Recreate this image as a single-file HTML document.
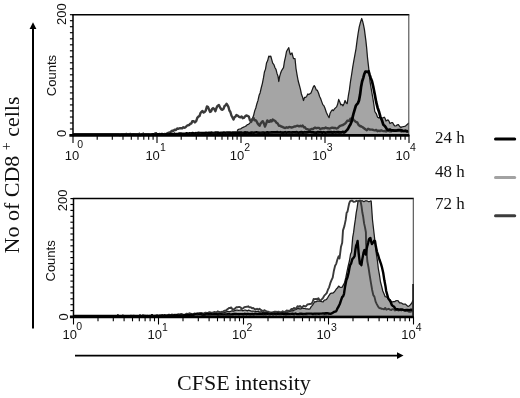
<!DOCTYPE html>
<html><head><meta charset="utf-8"><title>CFSE intensity</title>
<style>
html,body{margin:0;padding:0;background:#fff;}
svg{display:block}
.a{font-family:"Liberation Sans",Arial,sans-serif;font-size:13px;fill:#111}
.s{font-family:"Liberation Serif","Times New Roman",serif;fill:#111}
</style></head><body><svg width="520" height="398" viewBox="0 0 520 398"><rect width="520" height="398" fill="#fff"/><path d="M236.0,134.0 L237.0,131.8 L238.0,129.6 L239.4,129.0 L240.8,128.8 L242.2,127.7 L243.6,127.1 L245.0,126.5 L246.2,125.9 L247.3,124.6 L248.4,124.3 L249.6,123.5 L250.9,121.2 L252.2,118.9 L253.5,115.8 L254.7,110.9 L255.8,108.0 L256.9,103.7 L258.0,100.4 L259.1,95.3 L260.1,92.9 L261.2,88.0 L262.4,83.3 L263.5,77.7 L264.5,71.7 L265.5,69.1 L266.5,63.1 L267.6,60.8 L268.8,56.2 L269.8,56.6 L270.8,56.2 L271.8,59.9 L272.7,63.1 L273.9,64.6 L275.0,67.7 L276.0,69.4 L277.0,73.4 L278.0,76.2 L278.8,81.5 L279.6,76.6 L280.4,73.8 L281.4,71.0 L282.5,69.1 L283.5,67.7 L284.5,61.2 L285.5,56.8 L286.5,51.5 L287.6,49.5 L288.8,47.7 L289.6,52.0 L290.4,54.6 L291.2,53.8 L292.0,53.0 L292.8,56.1 L293.5,58.5 L294.2,58.5 L295.0,58.5 L296.0,68.5 L297.1,75.1 L298.2,81.0 L299.3,85.0 L300.4,89.2 L301.4,94.0 L302.4,96.7 L303.5,100.5 L304.6,97.3 L305.7,97.4 L306.7,96.3 L307.8,94.0 L308.9,94.5 L309.9,93.8 L311.0,93.0 L312.1,90.1 L313.1,87.4 L314.2,85.6 L315.2,87.2 L316.3,89.9 L317.4,90.4 L318.5,93.0 L319.6,96.5 L320.6,98.5 L321.7,101.6 L322.8,104.6 L323.8,105.6 L324.9,108.0 L326.3,112.3 L327.7,115.2 L329.1,117.6 L330.1,113.2 L331.2,111.2 L332.3,109.8 L333.3,110.7 L334.4,109.0 L335.5,107.9 L336.6,106.9 L337.6,104.3 L338.7,99.4 L339.8,101.9 L340.8,104.8 L341.9,104.3 L343.0,105.8 L344.1,103.5 L345.1,100.5 L346.1,102.8 L347.2,103.7 L348.5,94.9 L349.4,89.9 L350.5,81.4 L351.7,74.0 L352.8,66.6 L353.8,60.8 L354.9,54.8 L356.0,48.8 L357.0,41.2 L358.1,33.5 L359.2,27.2 L360.3,22.8 L361.7,18.5 L362.6,21.1 L363.5,24.9 L364.4,29.3 L365.2,35.6 L365.9,40.9 L366.7,48.4 L367.5,57.6 L368.4,65.4 L369.2,72.6 L370.0,81.3 L371.4,89.9 L372.9,98.3 L373.9,104.8 L374.8,111.5 L376.2,113.6 L377.6,117.2 L378.9,118.0 L380.1,117.0 L381.4,118.1 L382.8,117.9 L384.2,117.2 L385.1,118.4 L386.0,121.0 L387.0,120.3 L388.0,119.9 L389.0,121.2 L390.0,123.5 L391.4,122.7 L392.7,122.7 L393.9,125.0 L395.0,126.0 L396.1,125.9 L397.3,124.8 L398.4,124.6 L399.7,126.5 L401.0,127.5 L402.0,126.8 L403.0,126.7 L404.0,126.5 L405.4,126.1 L406.9,124.7 L407.8,124.0 L408.7,122.8 L408.7,134.0 Z" fill="#a5a5a5" stroke="none"/><path d="M237.0,131.8 L238.0,129.6 L239.4,129.0 L240.8,128.8 L242.2,127.7 L243.6,127.1 L245.0,126.5 L246.2,125.9 L247.3,124.6 L248.4,124.3 L249.6,123.5 L250.9,121.2 L252.2,118.9 L253.5,115.8 L254.7,110.9 L255.8,108.0 L256.9,103.7 L258.0,100.4 L259.1,95.3 L260.1,92.9 L261.2,88.0 L262.4,83.3 L263.5,77.7 L264.5,71.7 L265.5,69.1 L266.5,63.1 L267.6,60.8 L268.8,56.2 L269.8,56.6 L270.8,56.2 L271.8,59.9 L272.7,63.1 L273.9,64.6 L275.0,67.7 L276.0,69.4 L277.0,73.4 L278.0,76.2 L278.8,81.5 L279.6,76.6 L280.4,73.8 L281.4,71.0 L282.5,69.1 L283.5,67.7 L284.5,61.2 L285.5,56.8 L286.5,51.5 L287.6,49.5 L288.8,47.7 L289.6,52.0 L290.4,54.6 L291.2,53.8 L292.0,53.0 L292.8,56.1 L293.5,58.5 L294.2,58.5 L295.0,58.5 L296.0,68.5 L297.1,75.1 L298.2,81.0 L299.3,85.0 L300.4,89.2 L301.4,94.0 L302.4,96.7 L303.5,100.5 L304.6,97.3 L305.7,97.4 L306.7,96.3 L307.8,94.0 L308.9,94.5 L309.9,93.8 L311.0,93.0 L312.1,90.1 L313.1,87.4 L314.2,85.6 L315.2,87.2 L316.3,89.9 L317.4,90.4 L318.5,93.0 L319.6,96.5 L320.6,98.5 L321.7,101.6 L322.8,104.6 L323.8,105.6 L324.9,108.0 L326.3,112.3 L327.7,115.2 L329.1,117.6 L330.1,113.2 L331.2,111.2 L332.3,109.8 L333.3,110.7 L334.4,109.0 L335.5,107.9 L336.6,106.9 L337.6,104.3 L338.7,99.4 L339.8,101.9 L340.8,104.8 L341.9,104.3 L343.0,105.8 L344.1,103.5 L345.1,100.5 L346.1,102.8 L347.2,103.7 L348.5,94.9 L349.4,89.9 L350.5,81.4 L351.7,74.0 L352.8,66.6 L353.8,60.8 L354.9,54.8 L356.0,48.8 L357.0,41.2 L358.1,33.5 L359.2,27.2 L360.3,22.8 L361.7,18.5 L362.6,21.1 L363.5,24.9 L364.4,29.3 L365.2,35.6 L365.9,40.9 L366.7,48.4 L367.5,57.6 L368.4,65.4 L369.2,72.6 L370.0,81.3 L371.4,89.9 L372.9,98.3 L373.9,104.8 L374.8,111.5 L376.2,113.6 L377.6,117.2 L378.9,118.0 L380.1,117.0 L381.4,118.1 L382.8,117.9 L384.2,117.2 L385.1,118.4 L386.0,121.0 L387.0,120.3 L388.0,119.9 L389.0,121.2 L390.0,123.5 L391.4,122.7 L392.7,122.7 L393.9,125.0 L395.0,126.0 L396.1,125.9 L397.3,124.8 L398.4,124.6 L399.7,126.5 L401.0,127.5 L402.0,126.8 L403.0,126.7 L404.0,126.5 L405.4,126.1 L406.9,124.7 L407.8,124.0 L408.7,122.8" fill="none" stroke="#1a1a1a" stroke-width="1.25" stroke-linejoin="round"/><path d="M73.0,135.0 L74.4,134.5 L75.8,134.5 L77.1,134.5 L78.5,134.5 L79.9,134.5 L81.3,134.5 L82.7,134.5 L84.1,134.5 L85.4,134.5 L86.8,134.5 L88.2,134.5 L89.6,134.5 L91.0,134.5 L92.4,134.5 L93.7,134.5 L95.1,134.5 L96.5,134.5 L97.9,134.5 L99.3,134.5 L100.6,134.5 L102.0,134.5 L103.4,134.5 L104.8,134.5 L106.2,134.5 L107.6,134.5 L108.9,134.5 L110.3,134.5 L111.7,134.5 L113.1,134.5 L114.5,134.5 L115.9,134.5 L117.2,134.5 L118.6,134.5 L120.0,135.0 L121.4,134.5 L122.7,134.5 L124.1,134.5 L125.5,134.5 L126.8,134.5 L128.2,134.5 L129.5,134.5 L130.9,134.5 L132.3,134.5 L133.6,134.5 L135.0,134.5 L136.4,134.5 L137.7,134.5 L139.1,134.5 L140.5,134.5 L141.8,134.5 L143.2,134.5 L144.5,134.5 L145.9,134.5 L147.3,134.5 L148.6,134.5 L150.0,135.0 L151.3,134.5 L152.7,134.5 L154.0,134.5 L155.3,134.5 L156.7,134.5 L158.0,134.5 L159.3,134.0 L160.7,134.5 L162.0,134.3 L163.3,134.4 L164.7,134.0 L166.0,134.2 L167.2,133.5 L168.4,132.8 L169.6,132.6 L170.8,131.6 L172.1,130.6 L173.4,130.7 L174.7,129.7 L175.9,130.1 L177.2,128.5 L178.5,128.8 L179.7,128.2 L180.9,128.1 L182.2,128.4 L183.4,127.2 L184.6,127.8 L185.8,127.0 L186.9,125.8 L188.0,125.2 L189.2,125.0 L190.2,123.7 L191.3,123.6 L192.3,121.2 L193.6,121.1 L194.9,122.4 L196.2,121.2 L197.3,117.9 L198.5,116.5 L199.5,116.2 L200.5,113.0 L201.5,111.9 L202.5,111.0 L203.6,112.6 L204.6,111.9 L205.8,110.4 L206.9,106.5 L207.9,106.8 L209.0,109.4 L210.0,111.9 L211.0,111.4 L212.1,108.9 L213.1,108.1 L214.2,108.9 L215.4,111.2 L216.6,107.7 L217.7,105.7 L218.9,105.0 L220.2,107.7 L221.5,109.6 L222.5,109.8 L223.6,108.6 L224.6,105.8 L225.5,105.5 L226.5,103.8 L227.4,105.0 L228.4,106.8 L229.4,110.5 L230.4,112.0 L231.4,115.5 L232.5,117.5 L233.5,119.6 L234.5,117.3 L235.5,116.6 L236.5,115.0 L237.8,115.7 L239.1,116.9 L240.4,117.3 L241.6,116.4 L242.7,118.2 L243.8,117.9 L245.0,116.5 L246.3,115.5 L247.5,115.9 L248.8,116.5 L250.0,120.3 L251.2,121.9 L252.3,119.3 L253.5,118.0 L254.5,120.4 L255.5,120.2 L256.5,121.2 L257.5,123.2 L258.6,124.7 L259.6,125.8 L260.6,123.6 L261.7,122.2 L262.7,121.2 L263.9,123.3 L265.0,126.5 L266.1,123.9 L267.3,120.4 L268.5,121.7 L269.6,121.9 L270.6,120.2 L271.7,121.4 L272.7,119.6 L274.0,120.4 L275.2,121.0 L276.5,122.7 L277.7,123.5 L278.9,125.7 L280.0,125.7 L281.2,126.5 L282.5,126.9 L283.9,127.7 L285.2,128.0 L286.5,127.3 L287.8,127.7 L289.1,126.9 L290.4,127.1 L291.6,127.6 L292.9,127.2 L294.2,126.5 L295.4,126.5 L296.7,125.9 L297.9,125.8 L299.2,126.4 L300.4,125.8 L301.5,126.3 L302.7,125.6 L303.9,127.3 L305.0,127.3 L305.9,128.7 L306.9,129.2 L307.8,129.3 L309.0,129.8 L310.2,129.7 L311.4,128.9 L312.7,129.2 L313.9,128.3 L315.1,127.6 L316.3,128.2 L317.6,127.9 L319.0,127.9 L320.3,129.0 L321.6,128.5 L323.0,128.3 L324.3,128.4 L325.7,127.5 L327.0,128.2 L328.3,128.3 L329.6,128.6 L331.0,128.0 L332.3,127.7 L333.6,128.0 L335.0,127.9 L336.3,128.5 L337.6,128.2 L339.0,126.7 L340.3,125.8 L341.6,125.4 L343.0,125.0 L344.4,124.1 L345.8,122.9 L347.2,120.8 L348.3,120.7 L349.4,120.9 L350.4,118.8 L351.5,118.6 L352.6,118.1 L353.6,120.2 L354.7,120.8 L355.8,121.8 L357.2,122.4 L358.6,125.0 L360.0,126.0 L361.4,126.5 L362.7,127.2 L364.0,128.2 L365.4,129.3 L366.8,130.2 L368.1,128.8 L369.5,129.5 L370.9,129.6 L372.3,129.6 L373.6,130.1 L375.0,130.4 L376.2,130.0 L377.5,131.2 L378.8,130.6 L380.0,131.0 L381.2,130.3 L382.5,130.8 L383.8,131.1 L385.0,131.0 L386.2,131.4 L387.5,130.5 L388.8,130.8 L390.0,131.3 L391.2,131.2 L392.5,130.2 L393.8,130.6 L395.0,130.5 L396.3,130.9 L397.6,130.4 L398.9,130.9 L400.2,130.9 L401.5,131.5 L402.8,130.9 L404.1,131.1 L405.4,130.7 L406.7,131.3 L408.0,131.0" fill="none" stroke="#3a3a3a" stroke-width="2.4" stroke-linejoin="round"/><path d="M73.0,135.0 L74.5,134.5 L76.0,134.5 L77.5,134.5 L79.0,134.5 L80.4,134.5 L81.9,134.5 L83.4,134.5 L84.9,134.5 L86.4,134.5 L87.9,134.5 L89.4,134.5 L90.9,134.5 L92.4,134.5 L93.8,134.5 L95.3,134.5 L96.8,134.5 L98.3,134.5 L99.8,134.5 L101.3,134.5 L102.8,134.5 L104.3,134.5 L105.8,134.5 L107.2,134.5 L108.7,134.5 L110.2,134.5 L111.7,134.5 L113.2,134.5 L114.7,134.5 L116.2,134.5 L117.7,134.5 L119.2,134.5 L120.6,134.5 L122.1,134.5 L123.6,134.5 L125.1,134.5 L126.6,134.5 L128.1,134.5 L129.6,134.5 L131.1,134.5 L132.6,134.5 L134.0,134.5 L135.5,134.5 L137.0,134.5 L138.5,134.5 L140.0,135.0 L141.5,134.5 L142.9,134.5 L144.4,134.5 L145.8,134.5 L147.3,134.5 L148.8,134.5 L150.2,134.5 L151.7,134.5 L153.1,134.4 L154.6,134.5 L156.0,134.4 L157.5,134.4 L159.0,134.3 L160.4,134.4 L161.9,134.2 L163.3,134.4 L164.8,134.5 L166.2,134.2 L167.7,134.3 L169.2,134.4 L170.6,133.9 L172.1,133.9 L173.5,134.2 L175.0,134.0 L176.5,134.1 L177.9,134.0 L179.4,133.6 L180.9,133.7 L182.4,133.9 L183.8,133.9 L185.3,133.8 L186.8,133.4 L188.2,133.7 L189.7,133.3 L191.2,133.5 L192.6,133.1 L194.1,133.5 L195.6,133.2 L197.1,133.3 L198.5,132.9 L200.0,133.0 L201.5,133.1 L203.0,133.0 L204.5,133.0 L206.0,132.9 L207.5,133.1 L209.0,132.8 L210.4,132.8 L211.9,132.7 L213.4,133.0 L214.9,132.7 L216.4,132.7 L217.9,132.6 L219.4,133.0 L220.9,132.9 L222.4,132.9 L223.9,132.6 L225.4,132.8 L226.9,132.7 L228.4,132.6 L229.9,132.5 L231.3,133.1 L232.8,132.6 L234.3,132.7 L235.8,132.6 L237.3,132.8 L238.8,132.5 L240.3,132.7 L241.8,132.7 L243.3,133.0 L244.8,132.4 L246.3,132.6 L247.8,132.7 L249.3,133.0 L250.7,132.7 L252.2,132.7 L253.7,132.8 L255.2,132.5 L256.7,132.4 L258.2,132.7 L259.7,132.9 L261.2,132.8 L262.7,132.5 L264.2,132.7 L265.7,132.8 L267.2,132.4 L268.7,132.6 L270.1,132.5 L271.6,132.4 L273.1,132.4 L274.6,132.4 L276.1,132.4 L277.6,132.2 L279.1,132.5 L280.6,132.2 L282.1,132.7 L283.6,132.6 L285.1,132.2 L286.6,132.7 L288.1,132.3 L289.6,132.4 L291.0,132.5 L292.5,132.3 L294.0,132.3 L295.5,132.4 L297.0,132.2 L298.5,132.7 L300.0,132.4 L301.5,132.1 L303.0,132.6 L304.4,132.2 L305.9,132.3 L307.4,132.3 L308.9,132.1 L310.4,132.1 L311.9,132.3 L313.3,132.3 L314.8,132.6 L316.3,132.7 L317.8,132.0 L319.3,132.4 L320.7,132.1 L322.2,132.6 L323.7,132.2 L325.2,132.6 L326.7,132.4 L328.1,132.1 L329.6,132.0 L331.1,132.1 L332.6,132.6 L334.1,132.1 L335.6,132.3 L337.0,132.2 L338.5,132.2 L340.0,132.3 L341.3,132.4 L342.6,131.9 L343.8,132.2 L345.1,132.0 L346.2,130.9 L347.2,129.9 L348.3,128.2 L349.4,126.1 L350.4,124.6 L351.5,121.8 L352.6,117.4 L353.6,113.3 L354.7,109.7 L355.8,105.8 L356.9,104.3 L357.9,103.1 L359.0,100.5 L360.1,94.6 L361.1,86.7 L362.1,81.5 L363.2,78.1 L364.3,74.0 L365.4,71.7 L366.5,71.6 L367.5,72.1 L368.6,71.2 L369.6,74.7 L370.7,78.0 L372.0,81.3 L373.4,87.4 L374.8,94.5 L376.2,102.2 L377.6,107.7 L379.1,112.0 L380.5,117.2 L381.9,120.2 L383.3,124.7 L384.5,125.7 L385.8,127.3 L387.0,129.4 L388.4,129.9 L389.9,129.5 L391.3,130.3 L392.7,130.4 L394.2,130.6 L395.6,130.7 L397.1,130.4 L398.5,130.0 L400.0,130.0 L401.4,130.4 L402.8,130.8 L404.1,131.0 L405.5,130.9 L406.9,131.3 L407.7,131.4 L408.5,131.0" fill="none" stroke="#000" stroke-width="2.7" stroke-linejoin="round"/><line x1="72.3" y1="14.7" x2="409.3" y2="14.7" stroke="#000" stroke-width="1.5"/><line x1="408.8" y1="14.7" x2="408.8" y2="136.0" stroke="#4a4a4a" stroke-width="1.1"/><line x1="73.0" y1="14.7" x2="73.0" y2="136.0" stroke="#000" stroke-width="1.5"/><line x1="69.4" y1="135.35" x2="409.3" y2="135.35" stroke="#000" stroke-width="2.8"/><g stroke="#000" stroke-width="1.1"><line x1="73.0" y1="135.0" x2="73.0" y2="143.0"/><line x1="97.2" y1="135.0" x2="97.2" y2="139.8"/><line x1="112.3" y1="135.0" x2="112.3" y2="139.8"/><line x1="123.0" y1="135.0" x2="123.0" y2="139.8"/><line x1="131.3" y1="135.0" x2="131.3" y2="139.8"/><line x1="138.0" y1="135.0" x2="138.0" y2="139.8"/><line x1="143.8" y1="135.0" x2="143.8" y2="139.8"/><line x1="148.7" y1="135.0" x2="148.7" y2="139.8"/><line x1="153.1" y1="135.0" x2="153.1" y2="139.8"/><line x1="157.0" y1="135.0" x2="157.0" y2="143.0"/><line x1="181.2" y1="135.0" x2="181.2" y2="139.8"/><line x1="196.3" y1="135.0" x2="196.3" y2="139.8"/><line x1="207.0" y1="135.0" x2="207.0" y2="139.8"/><line x1="215.3" y1="135.0" x2="215.3" y2="139.8"/><line x1="222.0" y1="135.0" x2="222.0" y2="139.8"/><line x1="227.8" y1="135.0" x2="227.8" y2="139.8"/><line x1="232.7" y1="135.0" x2="232.7" y2="139.8"/><line x1="237.1" y1="135.0" x2="237.1" y2="139.8"/><line x1="241.0" y1="135.0" x2="241.0" y2="143.0"/><line x1="265.2" y1="135.0" x2="265.2" y2="139.8"/><line x1="280.3" y1="135.0" x2="280.3" y2="139.8"/><line x1="291.0" y1="135.0" x2="291.0" y2="139.8"/><line x1="299.3" y1="135.0" x2="299.3" y2="139.8"/><line x1="306.0" y1="135.0" x2="306.0" y2="139.8"/><line x1="311.8" y1="135.0" x2="311.8" y2="139.8"/><line x1="316.7" y1="135.0" x2="316.7" y2="139.8"/><line x1="321.1" y1="135.0" x2="321.1" y2="139.8"/><line x1="325.0" y1="135.0" x2="325.0" y2="143.0"/><line x1="349.2" y1="135.0" x2="349.2" y2="139.8"/><line x1="364.3" y1="135.0" x2="364.3" y2="139.8"/><line x1="375.0" y1="135.0" x2="375.0" y2="139.8"/><line x1="383.3" y1="135.0" x2="383.3" y2="139.8"/><line x1="390.0" y1="135.0" x2="390.0" y2="139.8"/><line x1="395.8" y1="135.0" x2="395.8" y2="139.8"/><line x1="400.7" y1="135.0" x2="400.7" y2="139.8"/><line x1="405.1" y1="135.0" x2="405.1" y2="139.8"/><line x1="409.0" y1="135.0" x2="409.0" y2="143.0"/></g><g stroke="#000" stroke-width="1.15"><line x1="69.9" y1="135.0" x2="73.0" y2="135.0"/><line x1="69.9" y1="129.0" x2="73.0" y2="129.0"/><line x1="69.9" y1="123.0" x2="73.0" y2="123.0"/><line x1="69.9" y1="117.0" x2="73.0" y2="117.0"/><line x1="69.9" y1="110.9" x2="73.0" y2="110.9"/><line x1="69.9" y1="104.9" x2="73.0" y2="104.9"/><line x1="69.9" y1="98.9" x2="73.0" y2="98.9"/><line x1="69.9" y1="92.9" x2="73.0" y2="92.9"/><line x1="69.9" y1="86.9" x2="73.0" y2="86.9"/><line x1="69.9" y1="80.9" x2="73.0" y2="80.9"/><line x1="69.9" y1="74.8" x2="73.0" y2="74.8"/><line x1="69.9" y1="68.8" x2="73.0" y2="68.8"/><line x1="69.9" y1="62.8" x2="73.0" y2="62.8"/><line x1="69.9" y1="56.8" x2="73.0" y2="56.8"/><line x1="69.9" y1="50.8" x2="73.0" y2="50.8"/><line x1="69.9" y1="44.8" x2="73.0" y2="44.8"/><line x1="69.9" y1="38.8" x2="73.0" y2="38.8"/><line x1="69.9" y1="32.7" x2="73.0" y2="32.7"/><line x1="69.9" y1="26.7" x2="73.0" y2="26.7"/><line x1="69.9" y1="20.7" x2="73.0" y2="20.7"/><line x1="69.9" y1="14.7" x2="73.0" y2="14.7"/></g><text x="64.8" y="159.5" class="a">10</text><text x="77.3" y="148.2" class="a" style="font-size:10.5px">0</text><text x="145.4" y="159.5" class="a">10</text><text x="159.9" y="150.5" class="a" style="font-size:10.5px">1</text><text x="229.7" y="159.5" class="a">10</text><text x="244.2" y="150.5" class="a" style="font-size:10.5px">2</text><text x="312.2" y="159.5" class="a">10</text><text x="326.7" y="150.5" class="a" style="font-size:10.5px">3</text><text x="395.5" y="159.5" class="a">10</text><text x="410.0" y="150.5" class="a" style="font-size:10.5px">4</text><text transform="translate(56.0,75.6) rotate(-90)" text-anchor="middle" class="a" style="font-size:13px">Counts</text><text transform="translate(65.9,137.1) rotate(-90)" class="a">0</text><text transform="translate(65.9,25.0) rotate(-90)" class="a">200</text><path d="M200.0,315.5 L201.4,315.2 L202.7,315.2 L204.1,315.0 L205.5,314.8 L206.8,314.4 L208.2,314.6 L209.5,314.4 L210.9,314.1 L212.3,313.9 L213.6,313.5 L215.0,313.5 L216.4,313.0 L217.9,313.1 L219.3,313.1 L220.7,312.6 L222.1,313.0 L223.6,312.4 L225.0,312.5 L226.4,311.9 L227.8,311.4 L229.2,311.9 L230.6,311.4 L232.0,310.8 L233.3,311.1 L234.7,310.7 L236.0,310.1 L237.3,310.2 L238.7,310.3 L240.0,310.2 L241.4,309.9 L242.9,310.8 L244.3,310.2 L245.7,310.1 L247.1,310.8 L248.6,310.2 L250.0,310.6 L251.4,311.2 L252.9,311.0 L254.3,311.2 L255.7,311.3 L257.1,311.6 L258.6,311.5 L260.0,312.0 L261.4,311.7 L262.7,312.5 L264.1,312.1 L265.5,312.6 L266.8,312.2 L268.2,312.9 L269.5,312.9 L270.9,312.9 L272.3,313.0 L273.6,313.0 L275.0,313.0 L276.4,313.1 L277.9,312.5 L279.3,312.6 L280.8,312.8 L282.2,312.2 L283.7,312.7 L285.1,312.5 L286.6,312.0 L288.0,312.0 L289.3,311.5 L290.7,311.1 L292.0,310.6 L293.3,310.8 L294.7,309.8 L296.0,309.5 L297.2,308.7 L298.4,308.4 L299.6,308.8 L300.8,308.9 L302.0,308.0 L303.3,308.3 L304.7,308.5 L306.0,308.8 L307.3,308.9 L308.7,309.1 L310.0,308.8 L311.2,306.6 L312.4,305.4 L313.6,303.5 L314.8,301.6 L316.2,301.8 L317.6,301.0 L319.1,301.0 L320.5,301.3 L321.9,301.6 L323.1,301.8 L324.3,300.1 L325.5,300.0 L326.7,299.2 L327.9,297.3 L329.1,295.3 L330.3,293.7 L331.5,293.2 L332.7,293.2 L333.9,292.3 L335.1,290.9 L336.3,289.0 L337.4,288.1 L338.6,286.1 L339.8,287.1 L341.0,287.3 L342.2,287.1 L343.4,284.9 L344.6,282.4 L345.8,277.7 L347.0,271.5 L348.2,265.8 L349.4,261.0 L350.6,253.9 L351.5,252.0 L352.7,237.4 L353.6,232.4 L354.5,225.1 L355.4,219.2 L356.2,212.8 L357.1,208.0 L358.0,201.4 L358.3,200.8 L359.7,200.8 L361.1,200.8 L362.5,200.8 L363.9,201.7 L365.4,200.8 L366.8,200.8 L368.2,201.5 L369.6,201.5 L371.0,200.8 L371.2,201.4 L372.5,220.0 L373.6,229.5 L374.7,239.0 L375.6,247.8 L376.5,254.9 L377.4,260.6 L378.3,268.5 L379.4,274.7 L380.5,282.0 L381.6,286.0 L382.8,291.0 L384.0,293.7 L385.2,296.7 L386.5,296.9 L387.7,297.7 L389.0,299.5 L390.1,299.7 L391.2,301.3 L392.4,302.0 L393.5,301.6 L394.7,301.7 L395.8,300.8 L397.0,300.5 L398.2,300.8 L399.5,302.8 L400.7,302.8 L401.8,303.2 L402.9,304.0 L404.0,304.0 L405.3,304.1 L406.6,305.2 L407.9,306.4 L408.9,306.1 L410.0,305.2 L411.0,304.0 L412.0,302.7 L413.0,300.0 L413.0,315.5 Z" fill="#a5a5a5" stroke="none"/><path d="M201.4,315.2 L202.7,315.2 L204.1,315.0 L205.5,314.8 L206.8,314.4 L208.2,314.6 L209.5,314.4 L210.9,314.1 L212.3,313.9 L213.6,313.5 L215.0,313.5 L216.4,313.0 L217.9,313.1 L219.3,313.1 L220.7,312.6 L222.1,313.0 L223.6,312.4 L225.0,312.5 L226.4,311.9 L227.8,311.4 L229.2,311.9 L230.6,311.4 L232.0,310.8 L233.3,311.1 L234.7,310.7 L236.0,310.1 L237.3,310.2 L238.7,310.3 L240.0,310.2 L241.4,309.9 L242.9,310.8 L244.3,310.2 L245.7,310.1 L247.1,310.8 L248.6,310.2 L250.0,310.6 L251.4,311.2 L252.9,311.0 L254.3,311.2 L255.7,311.3 L257.1,311.6 L258.6,311.5 L260.0,312.0 L261.4,311.7 L262.7,312.5 L264.1,312.1 L265.5,312.6 L266.8,312.2 L268.2,312.9 L269.5,312.9 L270.9,312.9 L272.3,313.0 L273.6,313.0 L275.0,313.0 L276.4,313.1 L277.9,312.5 L279.3,312.6 L280.8,312.8 L282.2,312.2 L283.7,312.7 L285.1,312.5 L286.6,312.0 L288.0,312.0 L289.3,311.5 L290.7,311.1 L292.0,310.6 L293.3,310.8 L294.7,309.8 L296.0,309.5 L297.2,308.7 L298.4,308.4 L299.6,308.8 L300.8,308.9 L302.0,308.0 L303.3,308.3 L304.7,308.5 L306.0,308.8 L307.3,308.9 L308.7,309.1 L310.0,308.8 L311.2,306.6 L312.4,305.4 L313.6,303.5 L314.8,301.6 L316.2,301.8 L317.6,301.0 L319.1,301.0 L320.5,301.3 L321.9,301.6 L323.1,301.8 L324.3,300.1 L325.5,300.0 L326.7,299.2 L327.9,297.3 L329.1,295.3 L330.3,293.7 L331.5,293.2 L332.7,293.2 L333.9,292.3 L335.1,290.9 L336.3,289.0 L337.4,288.1 L338.6,286.1 L339.8,287.1 L341.0,287.3 L342.2,287.1 L343.4,284.9 L344.6,282.4 L345.8,277.7 L347.0,271.5 L348.2,265.8 L349.4,261.0 L350.6,253.9 L351.5,252.0 L352.7,237.4 L353.6,232.4 L354.5,225.1 L355.4,219.2 L356.2,212.8 L357.1,208.0 L358.0,201.4 L358.3,200.8 L359.7,200.8 L361.1,200.8 L362.5,200.8 L363.9,201.7 L365.4,200.8 L366.8,200.8 L368.2,201.5 L369.6,201.5 L371.0,200.8 L371.2,201.4 L372.5,220.0 L373.6,229.5 L374.7,239.0 L375.6,247.8 L376.5,254.9 L377.4,260.6 L378.3,268.5 L379.4,274.7 L380.5,282.0 L381.6,286.0 L382.8,291.0 L384.0,293.7 L385.2,296.7 L386.5,296.9 L387.7,297.7 L389.0,299.5 L390.1,299.7 L391.2,301.3 L392.4,302.0 L393.5,301.6 L394.7,301.7 L395.8,300.8 L397.0,300.5 L398.2,300.8 L399.5,302.8 L400.7,302.8 L401.8,303.2 L402.9,304.0 L404.0,304.0 L405.3,304.1 L406.6,305.2 L407.9,306.4 L408.9,306.1 L410.0,305.2 L411.0,304.0 L412.0,302.7 L413.0,300.0" fill="none" stroke="#1a1a1a" stroke-width="1.25" stroke-linejoin="round"/><path d="M73.5,316.5 L74.9,316.0 L76.2,316.0 L77.6,316.0 L79.0,316.0 L80.3,316.0 L81.7,316.0 L83.1,316.0 L84.4,316.0 L85.8,316.0 L87.2,316.0 L88.5,316.0 L89.9,316.0 L91.3,316.0 L92.6,316.0 L94.0,316.0 L95.4,316.0 L96.8,316.0 L98.1,316.0 L99.5,316.0 L100.9,316.0 L102.2,316.0 L103.6,316.0 L105.0,316.0 L106.3,316.0 L107.7,316.0 L109.1,316.0 L110.4,316.0 L111.8,316.0 L113.2,316.0 L114.5,316.0 L115.9,316.0 L117.3,316.0 L118.6,316.0 L120.0,316.5 L121.4,316.0 L122.7,316.0 L124.1,316.0 L125.5,316.0 L126.8,316.0 L128.2,316.0 L129.5,315.9 L130.9,315.8 L132.3,316.0 L133.6,315.7 L135.0,316.0 L136.4,316.0 L137.7,316.0 L139.1,316.0 L140.5,316.0 L141.8,316.0 L143.2,315.8 L144.5,315.8 L145.9,316.0 L147.3,315.6 L148.6,315.9 L150.0,315.8 L151.4,315.8 L152.7,315.6 L154.1,315.8 L155.5,315.6 L156.8,315.1 L158.2,316.0 L159.5,315.3 L160.9,315.3 L162.3,315.2 L163.6,315.7 L165.0,315.7 L166.4,315.2 L167.7,315.0 L169.1,314.6 L170.5,315.4 L171.8,314.5 L173.2,314.9 L174.5,314.6 L175.9,314.6 L177.3,314.5 L178.6,314.3 L180.0,314.6 L181.3,313.9 L182.7,314.4 L184.0,314.7 L185.3,314.4 L186.7,313.7 L188.0,314.2 L189.3,313.3 L190.7,313.6 L192.0,314.1 L193.3,314.1 L194.7,313.4 L196.0,313.8 L197.3,313.2 L198.7,313.1 L200.0,313.0 L201.4,313.0 L202.7,313.5 L204.1,313.1 L205.5,312.6 L206.8,312.9 L208.2,312.7 L209.5,312.1 L210.9,312.7 L212.3,312.7 L213.6,312.3 L215.0,312.0 L216.3,312.7 L217.7,311.3 L219.0,312.0 L220.3,312.2 L221.7,311.8 L223.0,312.0 L224.3,310.6 L225.7,310.7 L227.0,309.5 L228.0,308.9 L229.0,308.0 L230.0,308.0 L231.3,307.5 L232.7,309.7 L234.0,309.2 L235.3,308.2 L236.7,307.1 L238.0,307.2 L239.2,306.9 L240.5,307.3 L241.8,308.8 L243.0,308.4 L244.3,307.2 L245.7,306.9 L247.0,306.8 L248.2,306.3 L249.5,307.4 L250.8,307.3 L252.0,308.2 L253.2,308.0 L254.5,309.0 L255.8,309.5 L257.0,308.8 L258.2,309.8 L259.5,308.8 L260.8,309.9 L262.0,310.5 L263.2,311.3 L264.3,310.2 L265.5,310.8 L266.7,311.5 L267.8,311.6 L269.0,312.0 L270.4,312.4 L271.8,312.4 L273.1,312.1 L274.5,311.8 L275.9,311.8 L277.2,311.9 L278.6,311.6 L280.0,312.3 L281.3,312.3 L282.7,311.3 L284.0,312.3 L285.3,311.7 L286.7,310.5 L288.0,311.0 L289.2,310.6 L290.3,310.3 L291.5,308.9 L292.7,309.3 L293.8,308.0 L295.0,308.5 L296.2,308.4 L297.5,306.2 L298.8,306.9 L300.0,306.0 L301.2,307.2 L302.5,307.0 L303.8,305.8 L305.0,306.5 L306.2,306.0 L307.5,304.4 L308.8,304.2 L310.0,304.0 L311.2,303.8 L312.4,302.5 L313.6,299.0 L314.8,299.2 L316.0,298.8 L317.2,299.6 L318.4,298.2 L319.5,300.1 L320.7,300.4 L321.9,299.2 L323.1,297.8 L324.3,295.6 L325.5,294.4 L326.7,293.1 L327.9,289.7 L329.1,287.3 L330.3,283.2 L331.5,280.2 L332.7,277.7 L333.9,270.7 L335.1,265.8 L336.3,263.6 L337.4,259.5 L338.6,256.3 L339.5,258.5 L340.2,253.2 L341.0,246.7 L342.2,242.7 L343.0,230.4 L344.4,226.1 L345.7,219.9 L346.6,212.8 L347.5,211.6 L348.3,207.6 L349.1,203.6 L350.0,201.4 L351.0,200.8 L352.4,200.8 L353.7,201.9 L355.1,201.6 L356.5,200.8 L357.9,201.3 L359.2,200.8 L360.6,200.8 L360.6,201.4 L361.5,206.1 L362.4,212.8 L363.2,216.8 L364.1,223.4 L365.0,227.4 L365.9,232.2 L366.1,244.3 L367.3,261.0 L368.5,267.4 L369.7,275.3 L370.9,282.6 L372.1,289.7 L373.3,295.1 L374.4,296.6 L375.6,301.6 L376.8,304.1 L378.0,306.4 L379.2,308.0 L380.4,308.2 L381.6,308.8 L382.8,308.9 L384.0,309.3 L385.2,307.9 L386.4,309.7 L387.6,309.2 L388.8,308.8 L390.0,309.7 L391.3,310.1 L392.5,309.1 L393.8,309.4 L395.0,310.5 L396.2,309.7 L397.5,310.0 L398.8,310.5 L400.0,309.5 L401.3,310.5 L402.6,309.9 L403.9,310.5 L405.3,311.0 L406.6,310.6 L407.9,311.1 L409.2,311.8 L410.4,311.8 L411.7,311.4 L413.0,311.0" fill="none" stroke="#3a3a3a" stroke-width="1.9" stroke-linejoin="round"/><path d="M73.5,316.5 L75.0,316.0 L76.5,316.0 L77.9,316.0 L79.4,316.0 L80.9,316.0 L82.4,316.0 L83.8,316.0 L85.3,316.0 L86.8,316.0 L88.3,316.0 L89.8,316.0 L91.2,316.0 L92.7,316.0 L94.2,316.0 L95.7,316.0 L97.1,316.0 L98.6,316.0 L100.1,316.0 L101.6,316.0 L103.1,316.0 L104.5,316.0 L106.0,316.0 L107.5,316.0 L109.0,316.0 L110.4,316.0 L111.9,316.0 L113.4,316.0 L114.9,316.0 L116.4,316.0 L117.8,316.0 L119.3,316.0 L120.8,316.0 L122.3,316.0 L123.7,316.0 L125.2,316.0 L126.7,316.0 L128.2,316.0 L129.7,316.0 L131.1,316.0 L132.6,316.0 L134.1,316.0 L135.6,316.0 L137.0,316.0 L138.5,316.0 L140.0,316.5 L141.5,316.0 L143.0,316.0 L144.4,316.0 L145.9,316.0 L147.4,316.0 L148.9,316.0 L150.4,316.0 L151.9,316.0 L153.3,316.0 L154.8,316.0 L156.3,315.9 L157.8,315.8 L159.3,316.0 L160.7,316.0 L162.2,316.0 L163.7,315.7 L165.2,315.8 L166.7,316.0 L168.1,315.8 L169.6,315.9 L171.1,315.5 L172.6,315.8 L174.1,315.3 L175.6,315.5 L177.0,315.2 L178.5,315.6 L180.0,315.4 L181.4,315.4 L182.9,315.5 L184.3,315.3 L185.7,315.3 L187.1,315.0 L188.6,315.2 L190.0,315.0 L191.4,314.7 L192.9,315.0 L194.3,314.5 L195.7,314.3 L197.1,314.2 L198.6,314.4 L200.0,314.3 L201.5,314.1 L203.0,314.6 L204.5,314.6 L206.0,314.1 L207.5,314.0 L209.0,314.3 L210.4,314.0 L211.9,314.3 L213.4,314.4 L214.9,314.1 L216.4,314.2 L217.9,314.5 L219.4,314.2 L220.9,314.1 L222.4,314.4 L223.9,314.4 L225.4,314.4 L226.9,314.3 L228.4,314.1 L229.9,314.3 L231.3,314.4 L232.8,314.2 L234.3,314.0 L235.8,314.0 L237.3,314.1 L238.8,314.3 L240.3,314.1 L241.8,314.1 L243.3,314.3 L244.8,313.8 L246.3,314.2 L247.8,313.9 L249.3,314.1 L250.7,314.3 L252.2,313.9 L253.7,314.3 L255.2,313.7 L256.7,314.1 L258.2,314.0 L259.7,313.8 L261.2,314.0 L262.7,314.0 L264.2,313.9 L265.7,314.1 L267.2,313.6 L268.7,313.9 L270.1,314.1 L271.6,313.7 L273.1,314.2 L274.6,313.7 L276.1,314.0 L277.6,313.7 L279.1,313.9 L280.6,313.8 L282.1,313.6 L283.6,314.0 L285.1,313.9 L286.6,314.0 L288.1,313.9 L289.6,313.9 L291.0,313.9 L292.5,313.7 L294.0,314.1 L295.5,313.5 L297.0,314.1 L298.5,314.1 L300.0,313.8 L301.4,313.8 L302.9,314.0 L304.3,313.9 L305.7,313.8 L307.2,313.6 L308.6,313.6 L310.0,313.6 L311.5,313.6 L312.9,314.0 L314.3,313.6 L315.8,313.6 L317.2,313.6 L318.6,313.8 L320.0,313.6 L321.5,313.6 L322.9,313.4 L324.3,313.4 L325.8,313.3 L327.2,313.3 L328.6,313.4 L330.1,313.8 L331.5,313.5 L332.7,312.9 L333.9,312.0 L335.1,311.7 L336.3,311.1 L337.5,308.3 L338.6,306.5 L339.8,304.0 L341.0,300.4 L342.2,297.0 L343.1,296.3 L344.0,293.8 L345.1,286.4 L346.3,280.2 L347.5,277.3 L348.6,272.7 L349.4,268.3 L350.1,265.2 L351.2,263.3 L352.3,259.1 L353.5,257.9 L354.6,256.1 L355.4,249.8 L356.1,245.6 L356.9,244.0 L357.6,241.0 L358.8,254.6 L359.9,263.7 L360.6,263.9 L361.4,265.2 L362.1,260.3 L362.9,256.1 L363.6,252.3 L364.4,250.1 L365.1,253.2 L365.9,254.6 L366.6,249.1 L367.4,245.6 L368.1,243.1 L368.9,239.5 L369.6,238.5 L370.4,238.0 L371.1,241.4 L371.9,244.0 L372.7,242.8 L373.5,242.5 L374.2,240.7 L375.0,241.0 L376.0,247.1 L377.0,251.8 L378.0,254.6 L379.4,259.5 L380.9,263.7 L382.0,267.4 L383.2,272.7 L384.4,280.6 L385.5,286.3 L386.2,291.0 L387.0,293.8 L388.3,298.5 L389.4,299.9 L390.6,301.8 L391.7,304.7 L392.8,306.0 L393.9,306.5 L395.1,308.4 L396.2,309.2 L397.6,309.2 L399.1,309.6 L400.6,309.5 L402.0,309.5 L403.5,309.9 L404.9,310.1 L406.4,310.0 L407.9,310.0 L409.2,310.1 L410.4,309.8 L411.7,309.6 L413.0,310.0" fill="none" stroke="#000" stroke-width="2.4" stroke-linejoin="round"/><line x1="72.8" y1="198.6" x2="413.8" y2="198.6" stroke="#000" stroke-width="1.5"/><line x1="413.3" y1="198.6" x2="413.3" y2="317.5" stroke="#4a4a4a" stroke-width="1.1"/><line x1="73.5" y1="198.6" x2="73.5" y2="317.5" stroke="#000" stroke-width="1.5"/><line x1="69.9" y1="316.85" x2="413.8" y2="316.85" stroke="#000" stroke-width="2.8"/><g stroke="#000" stroke-width="1.1"><line x1="73.5" y1="316.5" x2="73.5" y2="324.5"/><line x1="98.0" y1="316.5" x2="98.0" y2="321.3"/><line x1="113.3" y1="316.5" x2="113.3" y2="321.3"/><line x1="124.1" y1="316.5" x2="124.1" y2="321.3"/><line x1="132.5" y1="316.5" x2="132.5" y2="321.3"/><line x1="139.3" y1="316.5" x2="139.3" y2="321.3"/><line x1="145.1" y1="316.5" x2="145.1" y2="321.3"/><line x1="150.1" y1="316.5" x2="150.1" y2="321.3"/><line x1="154.5" y1="316.5" x2="154.5" y2="321.3"/><line x1="158.5" y1="316.5" x2="158.5" y2="324.5"/><line x1="183.0" y1="316.5" x2="183.0" y2="321.3"/><line x1="198.3" y1="316.5" x2="198.3" y2="321.3"/><line x1="209.1" y1="316.5" x2="209.1" y2="321.3"/><line x1="217.5" y1="316.5" x2="217.5" y2="321.3"/><line x1="224.3" y1="316.5" x2="224.3" y2="321.3"/><line x1="230.1" y1="316.5" x2="230.1" y2="321.3"/><line x1="235.1" y1="316.5" x2="235.1" y2="321.3"/><line x1="239.5" y1="316.5" x2="239.5" y2="321.3"/><line x1="243.5" y1="316.5" x2="243.5" y2="324.5"/><line x1="268.0" y1="316.5" x2="268.0" y2="321.3"/><line x1="283.3" y1="316.5" x2="283.3" y2="321.3"/><line x1="294.1" y1="316.5" x2="294.1" y2="321.3"/><line x1="302.5" y1="316.5" x2="302.5" y2="321.3"/><line x1="309.3" y1="316.5" x2="309.3" y2="321.3"/><line x1="315.1" y1="316.5" x2="315.1" y2="321.3"/><line x1="320.1" y1="316.5" x2="320.1" y2="321.3"/><line x1="324.5" y1="316.5" x2="324.5" y2="321.3"/><line x1="328.5" y1="316.5" x2="328.5" y2="324.5"/><line x1="353.0" y1="316.5" x2="353.0" y2="321.3"/><line x1="368.3" y1="316.5" x2="368.3" y2="321.3"/><line x1="379.1" y1="316.5" x2="379.1" y2="321.3"/><line x1="387.5" y1="316.5" x2="387.5" y2="321.3"/><line x1="394.3" y1="316.5" x2="394.3" y2="321.3"/><line x1="400.1" y1="316.5" x2="400.1" y2="321.3"/><line x1="405.1" y1="316.5" x2="405.1" y2="321.3"/><line x1="409.5" y1="316.5" x2="409.5" y2="321.3"/><line x1="413.5" y1="316.5" x2="413.5" y2="324.5"/></g><g stroke="#000" stroke-width="1.15"><line x1="70.4" y1="316.5" x2="73.5" y2="316.5"/><line x1="70.4" y1="310.6" x2="73.5" y2="310.6"/><line x1="70.4" y1="304.7" x2="73.5" y2="304.7"/><line x1="70.4" y1="298.8" x2="73.5" y2="298.8"/><line x1="70.4" y1="292.9" x2="73.5" y2="292.9"/><line x1="70.4" y1="287.0" x2="73.5" y2="287.0"/><line x1="70.4" y1="281.1" x2="73.5" y2="281.1"/><line x1="70.4" y1="275.2" x2="73.5" y2="275.2"/><line x1="70.4" y1="269.3" x2="73.5" y2="269.3"/><line x1="70.4" y1="263.4" x2="73.5" y2="263.4"/><line x1="70.4" y1="257.6" x2="73.5" y2="257.6"/><line x1="70.4" y1="251.7" x2="73.5" y2="251.7"/><line x1="70.4" y1="245.8" x2="73.5" y2="245.8"/><line x1="70.4" y1="239.9" x2="73.5" y2="239.9"/><line x1="70.4" y1="234.0" x2="73.5" y2="234.0"/><line x1="70.4" y1="228.1" x2="73.5" y2="228.1"/><line x1="70.4" y1="222.2" x2="73.5" y2="222.2"/><line x1="70.4" y1="216.3" x2="73.5" y2="216.3"/><line x1="70.4" y1="210.4" x2="73.5" y2="210.4"/><line x1="70.4" y1="204.5" x2="73.5" y2="204.5"/><line x1="70.4" y1="198.6" x2="73.5" y2="198.6"/></g><text x="62.5" y="339.1" class="a">10</text><text x="76.3" y="329.8" class="a" style="font-size:10.5px">0</text><text x="147.6" y="339.1" class="a">10</text><text x="162.1" y="331.0" class="a" style="font-size:10.5px">1</text><text x="232.0" y="339.1" class="a">10</text><text x="246.5" y="331.0" class="a" style="font-size:10.5px">2</text><text x="316.4" y="339.1" class="a">10</text><text x="330.9" y="331.0" class="a" style="font-size:10.5px">3</text><text x="401.2" y="339.1" class="a">10</text><text x="415.7" y="331.0" class="a" style="font-size:10.5px">4</text><text transform="translate(55.2,260.9) rotate(-90)" text-anchor="middle" class="a" style="font-size:13px">Counts</text><text transform="translate(67.7,320.6) rotate(-90)" class="a">0</text><text transform="translate(66.9,211.2) rotate(-90)" class="a">200</text><path d="M125.8,133.8 v-1.1 h1.0 v1.1 Z M129.7,133.8 v-1.1 h1.0 v1.1 Z M132.3,133.8 v-0.8 h2.0 v0.8 Z M138.8,133.8 v-1.4 h1.0 v1.4 Z M142.7,133.8 v-1.6 h1.0 v1.6 Z M154.4,133.8 v-1.5 h2.0 v1.5 Z M155.7,133.8 v-1.6 h1.4 v1.6 Z M159.6,133.8 v-0.7 h1.0 v0.7 Z M167.4,133.8 v-1.0 h1.4 v1.0 Z M173.9,133.8 v-1.6 h1.0 v1.6 Z M189.5,133.8 v-0.8 h1.4 v0.8 Z M196.0,133.8 v-1.3 h1.4 v1.3 Z M198.6,133.8 v-1.5 h1.0 v1.5 Z M199.9,133.8 v-1.1 h1.4 v1.1 Z M206.4,133.8 v-0.9 h1.0 v0.9 Z M211.6,133.8 v-1.1 h2.0 v1.1 Z M212.9,133.8 v-1.6 h2.0 v1.6 Z M215.5,133.8 v-1.3 h1.4 v1.3 Z M220.7,133.8 v-1.5 h1.0 v1.5 Z M223.3,133.8 v-0.8 h2.0 v0.8 Z M225.9,133.8 v-1.5 h1.4 v1.5 Z M227.2,133.8 v-1.0 h1.0 v1.0 Z M228.5,133.8 v-1.0 h1.0 v1.0 Z M240.2,133.8 v-1.0 h1.0 v1.0 Z M241.5,133.8 v-1.4 h2.0 v1.4 Z M246.7,133.8 v-0.7 h1.4 v0.7 Z M251.9,133.8 v-1.4 h1.4 v1.4 Z M257.1,133.8 v-1.3 h1.4 v1.3 Z M259.7,133.8 v-1.6 h2.0 v1.6 Z M261.0,133.8 v-1.5 h2.0 v1.5 Z M262.3,133.8 v-1.5 h1.4 v1.5 Z M264.9,133.8 v-1.3 h1.4 v1.3 Z M266.2,133.8 v-1.1 h2.0 v1.1 Z M268.8,133.8 v-1.2 h2.0 v1.2 Z M271.4,133.8 v-1.5 h1.0 v1.5 Z M280.5,133.8 v-1.4 h1.4 v1.4 Z M281.8,133.8 v-0.7 h2.0 v0.7 Z M284.4,133.8 v-1.4 h2.0 v1.4 Z M288.3,133.8 v-1.2 h2.0 v1.2 Z M289.6,133.8 v-1.6 h1.0 v1.6 Z M290.9,133.8 v-1.0 h2.0 v1.0 Z M292.2,133.8 v-1.4 h1.0 v1.4 Z M294.8,133.8 v-1.1 h1.0 v1.1 Z M296.1,133.8 v-1.5 h1.0 v1.5 Z M297.4,133.8 v-0.8 h1.0 v0.8 Z M300.0,133.8 v-1.0 h2.0 v1.0 Z M303.9,133.8 v-1.5 h1.0 v1.5 Z M305.2,133.8 v-1.6 h1.4 v1.6 Z M313.0,133.8 v-0.9 h2.0 v0.9 Z M314.3,133.8 v-1.2 h1.4 v1.2 Z M316.9,133.8 v-1.4 h2.0 v1.4 Z M318.2,133.8 v-1.1 h1.0 v1.1 Z M326.0,133.8 v-1.5 h1.0 v1.5 Z M327.3,133.8 v-0.9 h2.0 v0.9 Z M328.6,133.8 v-0.9 h2.0 v0.9 Z M329.9,133.8 v-1.0 h1.0 v1.0 Z M331.2,133.8 v-1.1 h2.0 v1.1 Z M332.5,133.8 v-1.6 h1.0 v1.6 Z M335.1,133.8 v-1.6 h1.4 v1.6 Z M336.4,133.8 v-0.6 h1.4 v0.6 Z M337.7,133.8 v-0.9 h1.4 v0.9 Z M339.0,133.8 v-1.3 h1.4 v1.3 Z M340.3,133.8 v-0.6 h1.0 v0.6 Z M342.9,133.8 v-1.1 h1.4 v1.1 Z M344.2,133.8 v-1.1 h1.0 v1.1 Z " fill="#111"/><path d="M117.2,315.3 v-1.3 h1.4 v1.3 Z M122.4,315.3 v-1.1 h1.0 v1.1 Z M139.3,315.3 v-1.4 h1.4 v1.4 Z M141.9,315.3 v-0.8 h2.0 v0.8 Z M144.5,315.3 v-0.6 h1.0 v0.6 Z M151.0,315.3 v-1.2 h2.0 v1.2 Z M161.4,315.3 v-1.1 h2.0 v1.1 Z M164.0,315.3 v-1.3 h1.4 v1.3 Z M167.9,315.3 v-1.2 h2.0 v1.2 Z M170.5,315.3 v-0.8 h2.0 v0.8 Z M179.6,315.3 v-1.6 h1.0 v1.6 Z M180.9,315.3 v-1.2 h1.4 v1.2 Z M182.2,315.3 v-1.0 h1.0 v1.0 Z M196.5,315.3 v-1.3 h1.4 v1.3 Z M201.7,315.3 v-1.1 h1.4 v1.1 Z M205.6,315.3 v-1.1 h2.0 v1.1 Z M206.9,315.3 v-1.0 h1.4 v1.0 Z M209.5,315.3 v-1.1 h1.4 v1.1 Z M218.6,315.3 v-1.5 h2.0 v1.5 Z M222.5,315.3 v-1.0 h1.4 v1.0 Z M225.1,315.3 v-1.4 h2.0 v1.4 Z M226.4,315.3 v-1.0 h1.0 v1.0 Z M227.7,315.3 v-1.2 h2.0 v1.2 Z M229.0,315.3 v-1.3 h1.4 v1.3 Z M235.5,315.3 v-0.9 h1.0 v0.9 Z M243.3,315.3 v-1.0 h1.0 v1.0 Z M245.9,315.3 v-0.9 h1.0 v0.9 Z M248.5,315.3 v-0.7 h2.0 v0.7 Z M252.4,315.3 v-0.6 h2.0 v0.6 Z M253.7,315.3 v-1.4 h1.0 v1.4 Z M255.0,315.3 v-1.2 h1.4 v1.2 Z M262.8,315.3 v-1.5 h1.4 v1.5 Z M265.4,315.3 v-1.2 h1.4 v1.2 Z M268.0,315.3 v-1.4 h1.4 v1.4 Z M269.3,315.3 v-1.5 h1.0 v1.5 Z M271.9,315.3 v-0.9 h1.4 v0.9 Z M273.2,315.3 v-1.5 h1.0 v1.5 Z M275.8,315.3 v-1.2 h1.0 v1.2 Z M278.4,315.3 v-0.8 h1.4 v0.8 Z M279.7,315.3 v-1.6 h2.0 v1.6 Z M284.9,315.3 v-0.7 h2.0 v0.7 Z M287.5,315.3 v-0.7 h2.0 v0.7 Z M288.8,315.3 v-0.7 h1.0 v0.7 Z M290.1,315.3 v-1.6 h1.0 v1.6 Z M292.7,315.3 v-0.9 h1.0 v0.9 Z M294.0,315.3 v-1.5 h1.0 v1.5 Z M299.2,315.3 v-1.3 h1.4 v1.3 Z M303.1,315.3 v-1.4 h1.4 v1.4 Z M304.4,315.3 v-0.9 h1.4 v0.9 Z M305.7,315.3 v-0.6 h2.0 v0.6 Z M313.5,315.3 v-1.3 h1.0 v1.3 Z M314.8,315.3 v-1.2 h1.4 v1.2 Z M316.1,315.3 v-0.6 h1.4 v0.6 Z M318.7,315.3 v-1.3 h1.0 v1.3 Z M322.6,315.3 v-0.8 h1.4 v0.8 Z M323.9,315.3 v-1.2 h1.4 v1.2 Z M325.2,315.3 v-0.7 h2.0 v0.7 Z M327.8,315.3 v-1.3 h1.0 v1.3 Z " fill="#111"/><line x1="413.1" y1="284" x2="413.1" y2="316" stroke="#222" stroke-width="1.8"/><line x1="33.0" y1="328.5" x2="33.0" y2="28" stroke="#000" stroke-width="2"/><path d="M33,22.2 L29.6,29 L36.4,29 Z" fill="#000"/><line x1="75" y1="355.6" x2="398" y2="355.6" stroke="#000" stroke-width="1.9"/><path d="M403.5,355.6 L397,352.2 L397,359 Z" fill="#000"/><text transform="translate(18.6,253.5) rotate(-90)" class="s" font-size="22">No of CD8 <tspan dy="-8" font-size="14">+</tspan><tspan dy="8"> cells</tspan></text><text x="177" y="390.4" class="s" font-size="22">CFSE intensity</text><text x="435" y="143.2" class="s" font-size="17" word-spacing="0">24 h</text><line x1="495.5" y1="139" x2="514.7" y2="139" stroke="#000" stroke-width="3" stroke-linecap="round"/><text x="435" y="176.7" class="s" font-size="17" word-spacing="0">48 h</text><line x1="495.5" y1="177.5" x2="514.7" y2="177.5" stroke="#a2a2a2" stroke-width="3" stroke-linecap="round"/><text x="435" y="208.9" class="s" font-size="17" word-spacing="0">72 h</text><line x1="495.5" y1="215.8" x2="514.7" y2="215.8" stroke="#3c3c3c" stroke-width="3" stroke-linecap="round"/></svg></body></html>
